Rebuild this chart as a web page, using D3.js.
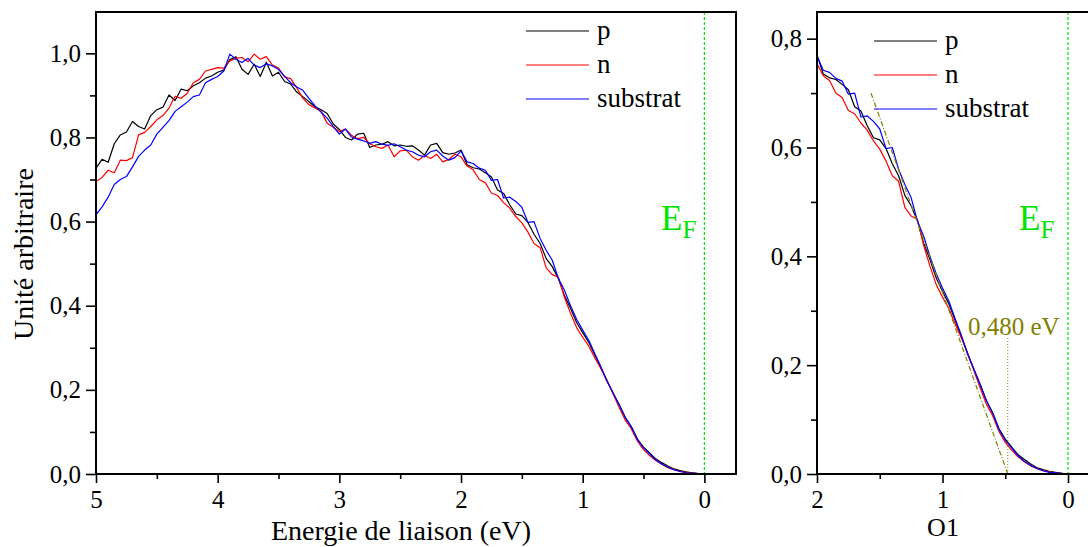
<!DOCTYPE html>
<html><head><meta charset="utf-8">
<script src="https://cdn.jsdelivr.net/npm/d3@7"></script>
<style>
body{margin:0;background:#fff}
svg{display:block}
svg text{font-family:"Liberation Serif","Tinos","Times New Roman","DejaVu Serif",serif !important}
</style>
</head><body>
<svg id="c" width="1088" height="547"></svg>
<script>
// Binding energy grid (eV), from 5.00 down to 0.00 in 0.05 steps
const energies = d3.range(0, 101).map(i => +(5 - i * 0.05).toFixed(2));

const seriesP = [
0.727,0.748,0.741,0.785,0.806,0.813,0.838,0.826,0.820,0.852,
0.866,0.872,0.901,0.888,0.915,0.911,0.923,0.930,0.941,0.946,
0.955,0.960,0.985,0.992,0.962,0.950,0.974,0.945,0.979,0.946,
0.955,0.933,0.927,0.908,0.897,0.885,0.873,0.866,0.857,0.832,
0.819,0.800,0.794,0.808,0.810,0.776,0.782,0.784,0.790,0.780,
0.782,0.779,0.780,0.770,0.758,0.782,0.786,0.764,0.760,0.763,
0.770,0.735,0.728,0.725,0.716,0.706,0.675,0.667,0.640,0.618,
0.614,0.598,0.570,0.548,0.512,0.493,0.465,0.424,0.394,0.360,
0.336,0.313,0.283,0.252,0.222,0.192,0.165,0.134,0.112,0.083,
0.064,0.050,0.036,0.027,0.019,0.012,0.008,0.005,0.003,0.001,
0.000];

const seriesN = [
0.695,0.705,0.722,0.716,0.746,0.745,0.752,0.806,0.812,0.826,
0.842,0.852,0.870,0.898,0.893,0.905,0.930,0.938,0.958,0.962,
0.966,0.965,0.982,0.988,0.990,0.980,0.998,0.986,0.992,0.972,
0.965,0.944,0.940,0.918,0.893,0.878,0.870,0.862,0.834,0.824,
0.814,0.820,0.805,0.797,0.800,0.785,0.778,0.774,0.782,0.754,
0.768,0.770,0.754,0.746,0.757,0.750,0.760,0.742,0.748,0.760,
0.754,0.732,0.723,0.700,0.692,0.668,0.662,0.645,0.632,0.612,
0.597,0.575,0.548,0.538,0.490,0.474,0.468,0.420,0.382,0.348,
0.325,0.304,0.276,0.250,0.222,0.190,0.158,0.128,0.107,0.078,
0.058,0.044,0.032,0.023,0.015,0.010,0.006,0.004,0.002,0.001,
0.000];

const seriesSub = [
0.616,0.635,0.658,0.688,0.700,0.707,0.730,0.755,0.770,0.782,
0.808,0.824,0.840,0.862,0.873,0.884,0.897,0.901,0.930,0.938,
0.945,0.958,0.998,0.986,0.978,0.988,0.972,0.966,0.975,0.970,
0.962,0.945,0.930,0.920,0.912,0.893,0.875,0.860,0.846,0.826,
0.808,0.820,0.801,0.796,0.792,0.786,0.790,0.784,0.781,0.785,
0.778,0.770,0.766,0.758,0.754,0.766,0.770,0.756,0.746,0.752,
0.768,0.742,0.738,0.727,0.722,0.698,0.700,0.656,0.658,0.648,
0.634,0.598,0.600,0.560,0.532,0.508,0.465,0.437,0.400,0.368,
0.342,0.318,0.286,0.255,0.220,0.193,0.164,0.135,0.112,0.082,
0.062,0.048,0.034,0.024,0.016,0.010,0.006,0.003,0.002,0.001,
0.000];

const seriesNames = ["p", "n", "substrat"];
const seriesColors = ["#000000", "#ff0000", "#0000ff"];

const leftXTicks = [5, 4, 3, 2, 1, 0];
const leftXMinor = [4.5, 3.5, 2.5, 1.5, 0.5];
const leftYTicks = [0, 0.2, 0.4, 0.6, 0.8, 1.0];
const leftYMinor = [0.1, 0.3, 0.5, 0.7, 0.9];
const rightXTicks = [2, 1, 0];
const rightXMinor = [1.5, 0.5];
const rightYTicks = [0, 0.2, 0.4, 0.6, 0.8];
const rightYMinor = [0.1, 0.3, 0.5, 0.7];

const fermiLevel = 0;
const fitX = [1.57, 0.48];
const fitY = [0.70, 0.0];
const onsetEnergy = 0.48;
const onsetTop = 0.25;
const onsetLabel = "0,480 eV";

const xTitle = "Energie de liaison (eV)";
const yTitle = "Unité arbitraire";
const rightXTitle = "O1";

const allSeries = [seriesP, seriesN, seriesSub];
const svg = d3.select("#c");
const fmt = d => d3.format(".1f")(d).replace(".", ",");
const green = "#00e400";
const olive = "#808000";
const FONT = '"Liberation Serif","Tinos","Times New Roman","DejaVu Serif",serif';

function panel(cfg) {
  const g = svg.append("g");
  const x = d3.scaleLinear().domain(cfg.xDomain).range([cfg.left, cfg.right]);
  const y = d3.scaleLinear().domain(cfg.yDomain).range([cfg.bottom, cfg.top]);

  g.append("g").attr("transform", `translate(0,${cfg.bottom})`)
    .call(d3.axisBottom(x).tickValues(cfg.xMinor).tickSize(5).tickFormat(""));
  g.append("g").attr("transform", `translate(${cfg.left},0)`)
    .call(d3.axisLeft(y).tickValues(cfg.yMinor).tickSize(6).tickFormat(""));
  g.append("g").attr("transform", `translate(0,${cfg.bottom})`)
    .call(d3.axisBottom(x).tickValues(cfg.xTicks).tickSize(9).tickPadding(7).tickFormat(d3.format("d")));
  g.append("g").attr("transform", `translate(${cfg.left},0)`)
    .call(d3.axisLeft(y).tickValues(cfg.yTicks).tickSize(10).tickPadding(5).tickFormat(fmt));
  g.selectAll(".domain").remove();
  g.selectAll("g").attr("font-family", FONT);
  g.selectAll(".tick line").attr("stroke", "#000").attr("stroke-width", 1.6);
  g.selectAll(".tick text").style("font-family", FONT).attr("font-size", 25).attr("fill", "#000");

  g.append("line").attr("x1", x(fermiLevel)).attr("x2", x(fermiLevel))
    .attr("y1", cfg.top).attr("y2", cfg.bottom)
    .attr("stroke", green).attr("stroke-width", 1.2).attr("stroke-dasharray", "3,2");

  const clipId = "clip" + cfg.id;
  svg.append("clipPath").attr("id", clipId).append("rect")
    .attr("x", cfg.left).attr("y", cfg.top).attr("width", cfg.right - cfg.left).attr("height", cfg.bottom - cfg.top);

  const line = d3.line().x(d => x(d[0])).y(d => y(d[1]));
  const cg = g.append("g").attr("clip-path", `url(#${clipId})`);
  allSeries.forEach((s, i) => {
    const pts = energies.map((e, k) => [e, s[k]]).filter(d => d[0] <= cfg.xDomain[0] + 1e-9);
    cg.append("path").datum(pts).attr("d", line).attr("fill", "none")
      .attr("stroke", seriesColors[i]).attr("stroke-width", 1.2).attr("stroke-linejoin", "round");
  });

  if (cfg.fit) {
    g.append("path").datum(fitX.map((v, k) => [v, fitY[k]])).attr("d", line)
      .attr("fill", "none").attr("stroke", olive).attr("stroke-width", 1.2).attr("stroke-dasharray", "5,2,1,2");
    g.append("line").attr("x1", x(onsetEnergy)).attr("x2", x(onsetEnergy))
      .attr("y1", y(0)).attr("y2", y(onsetTop))
      .attr("stroke", olive).attr("stroke-width", 1).attr("stroke-dasharray", "1,2");
    g.append("text").attr("x", cfg.onsetLabelX).attr("y", cfg.onsetLabelY)
      .attr("font-size", 25).style("fill", olive).style("font-family", FONT).text(onsetLabel);
  }

  g.append("path")
    .attr("d", `M${cfg.left},${cfg.top}H${cfg.right}V${cfg.bottom}H${cfg.left}Z`)
    .attr("fill", "none").attr("stroke", "#000").attr("stroke-width", 2);

  seriesNames.forEach((n, i) => {
    const ly = cfg.legY + i * cfg.legDy;
    g.append("line").attr("x1", cfg.legX).attr("x2", cfg.legX + cfg.legLen)
      .attr("y1", ly).attr("y2", ly).attr("stroke", seriesColors[i]).attr("stroke-width", 1.2);
    g.append("text").attr("x", cfg.legX + cfg.legLen + 8).attr("y", ly + 8)
      .attr("font-size", 27).style("font-family", FONT).text(n);
  });

  const ef = g.append("text").attr("x", cfg.efX).attr("y", 230).attr("font-size", 35)
    .style("fill", green).style("font-family", FONT);
  ef.append("tspan").text("E");
  ef.append("tspan").attr("font-size", 25).attr("dy", 8).text("F");

  return {x, y};
}

panel({id: "L", left: 96, right: 736, top: 12, bottom: 474,
  xDomain: [5, -0.26], yDomain: [0, 1.0982],
  xTicks: leftXTicks, xMinor: leftXMinor, yTicks: leftYTicks, yMinor: leftYMinor,
  legX: 526, legY: 31, legDy: 34, legLen: 63, efX: 661});

panel({id: "R", left: 817, right: 1090, top: 12, bottom: 474,
  xDomain: [2, -0.175], yDomain: [0, 0.849],
  xTicks: rightXTicks, xMinor: rightXMinor, yTicks: rightYTicks, yMinor: rightYMinor,
  legX: 874, legY: 41, legDy: 34, legLen: 63, efX: 1019,
  fit: true, onsetLabelX: 968, onsetLabelY: 335});

svg.append("text").attr("x", 401).attr("y", 540).attr("text-anchor", "middle")
  .attr("font-size", 28).style("font-family", FONT).text(xTitle);
svg.append("text").attr("transform", "translate(33,254) rotate(-90)").attr("text-anchor", "middle")
  .attr("font-size", 28).style("font-family", FONT).text(yTitle);
svg.append("text").attr("x", 943).attr("y", 536).attr("text-anchor", "middle")
  .attr("font-size", 26).style("font-family", FONT).text(rightXTitle);
</script>
</body></html>
